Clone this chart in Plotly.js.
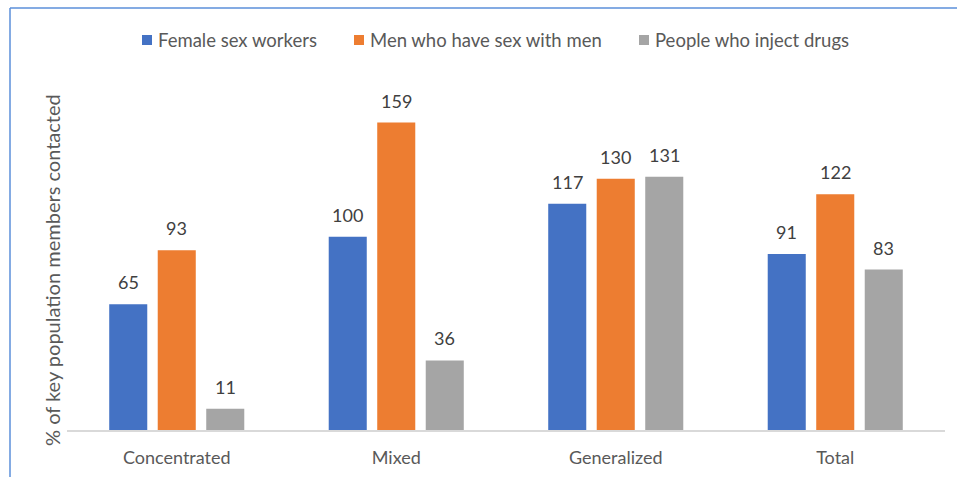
<!DOCTYPE html>
<html>
<head>
<meta charset="utf-8">
<script src="https://cdn.plot.ly/plotly-3.0.1.min.js"></script>
<style>html,body{margin:0;padding:0;background:#fff;}#chart{width:957px;height:477px;}</style>
</head>
<body>
<div id="chart"></div>
<script>
const categories = ["Concentrated", "Mixed", "Generalized", "Total"];
const seriesNames = ["Female sex workers", "Men who have sex with men", "People who inject drugs"];
const femaleSexWorkers = [65, 100, 117, 91];
const menWhoHaveSexWithMen = [93, 159, 130, 122];
const peopleWhoInjectDrugs = [11, 36, 131, 83];
const colors = ["#4472C4", "#ED7D31", "#A5A5A5"];
const yTitle = "% of key population members contacted";

const allValues = [femaleSexWorkers, menWhoHaveSexWithMen, peopleWhoInjectDrugs];
const traces = allValues.map((vals, i) => ({
  type: "bar",
  name: seriesNames[i],
  x: categories,
  y: vals,
  marker: {color: colors[i]},
  hoverinfo: "none",
  showlegend: false
}));

// layout geometry (pixels)
const W = 957, H = 477, ML = 67, MR = 12, MT = 82, MB = 47;
const PW = W - ML - MR, PH = H - MT - MB;
const px2x = p => (p - ML) / PW;
const py2y = p => (H - MB - p) / PH;
const slotPx = 48.5;

const annotations = [];
allValues.forEach((vals, i) => {
  vals.forEach((v, j) => {
    annotations.push({
      x: categories[j], y: v, xref: "x", yref: "y",
      text: String(v), showarrow: false,
      xanchor: "center", yanchor: "bottom",
      xshift: (i - 1) * slotPx, yshift: 9,
      font: {size: 18, color: "#404040"}
    });
  });
});
annotations.push({
  text: yTitle, xref: "paper", yref: "paper",
  x: px2x(52), y: py2y(270), textangle: -90, showarrow: false,
  xanchor: "center", yanchor: "middle",
  font: {size: 20, color: "#595959"}
});

// manual legend
const legendSquareLeft = [142, 354, 639];
const shapes = [
  {type: "line", xref: "paper", yref: "paper", x0: px2x(10), x1: px2x(960), y0: py2y(8), y1: py2y(8),
   line: {color: "#5B8FDA", width: 1.5}},
  {type: "line", xref: "paper", yref: "paper", x0: px2x(10), x1: px2x(10), y0: py2y(8), y1: py2y(480),
   line: {color: "#5B8FDA", width: 1.5}}
];
seriesNames.forEach((name, i) => {
  const l = legendSquareLeft[i];
  shapes.push({type: "rect", xref: "paper", yref: "paper",
    x0: px2x(l), x1: px2x(l + 10), y0: py2y(45), y1: py2y(35),
    fillcolor: colors[i], line: {width: 0}});
  annotations.push({
    text: name, xref: "paper", yref: "paper",
    x: px2x(l + 14), y: py2y(40), xanchor: "left", yanchor: "middle",
    showarrow: false, font: {size: 18.5, color: "#595959"}
  });
});

const layout = {
  width: W, height: H,
  margin: {l: ML, r: MR, t: MT, b: MB},
  paper_bgcolor: "#fff", plot_bgcolor: "#fff",
  barmode: "group",
  bargap: 0.337,
  bargroupgap: 0.216,
  font: {family: "Lato, sans-serif", color: "#595959"},
  xaxis: {
    showgrid: false, zeroline: false, showline: true,
    linecolor: "#D9D9D9", linewidth: 1.5,
    ticks: "", tickfont: {size: 18, color: "#595959"},
    ticklabelstandoff: 11
  },
  yaxis: {
    range: [0, 180], showgrid: false, zeroline: false,
    showticklabels: false, showline: false, ticks: ""
  },
  showlegend: false,
  annotations: annotations,
  shapes: shapes
};

Plotly.newPlot("chart", traces, layout, {displayModeBar: false, staticPlot: true});
</script>
</body>
</html>
